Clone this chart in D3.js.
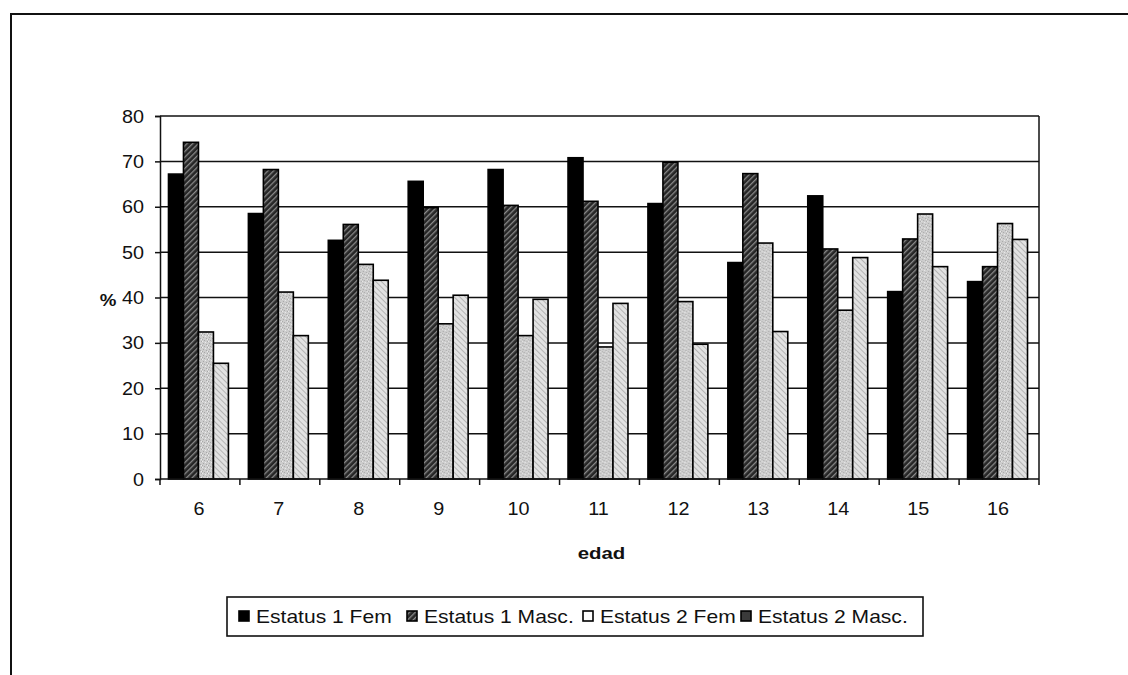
<!DOCTYPE html>
<html>
<head>
<meta charset="utf-8">
<script src="https://cdn.jsdelivr.net/npm/d3@7/dist/d3.min.js"></script>
<style>
  html, body { margin: 0; padding: 0; background: #fff; }
  svg { display: block; font-family: "Liberation Sans", Arial, sans-serif; }
</style>
</head>
<body>
<svg id="chart" width="1128" height="675"></svg>
<script>
// Porcentaje por edad y estatus
const edades = ["6", "7", "8", "9", "10", "11", "12", "13", "14", "15", "16"];
const serieNombres = ["Estatus 1 Fem", "Estatus 1 Masc.", "Estatus 2 Fem", "Estatus 2 Masc."];
const estatus1Fem  = [67.2, 58.5, 52.6, 65.6, 68.2, 70.8, 60.7, 47.7, 62.4, 41.3, 43.5];
const estatus1Masc = [74.2, 68.2, 56.1, 59.8, 60.3, 61.2, 69.8, 67.3, 50.7, 52.9, 46.8];
const estatus2Fem  = [32.4, 41.2, 47.3, 34.2, 31.6, 29.1, 39.1, 52.0, 37.2, 58.4, 56.3];
const estatus2Masc = [25.5, 31.6, 43.8, 40.5, 39.6, 38.7, 29.7, 32.5, 48.8, 46.8, 52.8];
const yTicks = [0, 10, 20, 30, 40, 50, 60, 70, 80];

const series = [estatus1Fem, estatus1Masc, estatus2Fem, estatus2Masc];

const svg = d3.select("#chart");
const defs = svg.append("defs");

// Text is drawn slightly wide, like the typeface of the original sheet
const SX = 1.15;
function label(parent, x, y, txt, opts = {}) {
  return parent.append("text")
    .attr("transform", `translate(${x},${y}) scale(${opts.sx || SX},1)`)
    .attr("text-anchor", opts.anchor || "start")
    .attr("font-size", opts.size || 18)
    .attr("font-weight", opts.weight || "normal")
    .attr("fill", "#111")
    .text(txt);
}

// Fill patterns for the four series
const p1 = defs.append("pattern").attr("id", "hatchDark")
  .attr("patternUnits", "userSpaceOnUse").attr("width", 4).attr("height", 4)
  .attr("patternTransform", "rotate(45)");
p1.append("rect").attr("width", 4).attr("height", 4).attr("fill", "#262626");
p1.append("rect").attr("x", 0).attr("width", 1.3).attr("height", 4).attr("fill", "#8a8a8a");

const p2 = defs.append("pattern").attr("id", "speckle")
  .attr("patternUnits", "userSpaceOnUse").attr("width", 6).attr("height", 6);
p2.append("rect").attr("width", 6).attr("height", 6).attr("fill", "#cdcdcd");
[[1, 1], [4, 2], [2, 4], [5, 5], [0, 3]].forEach(([x, y]) =>
  p2.append("rect").attr("x", x).attr("y", y).attr("width", 1).attr("height", 1).attr("fill", "#a8a8a8"));
[[3, 0], [0, 5], [5, 3]].forEach(([x, y]) =>
  p2.append("rect").attr("x", x).attr("y", y).attr("width", 1).attr("height", 1).attr("fill", "#ececec"));

const p3 = defs.append("pattern").attr("id", "hatchLight")
  .attr("patternUnits", "userSpaceOnUse").attr("width", 4).attr("height", 4)
  .attr("patternTransform", "rotate(-45)");
p3.append("rect").attr("width", 4).attr("height", 4).attr("fill", "#e2e2e2");
p3.append("rect").attr("x", 0).attr("width", 1).attr("height", 4).attr("fill", "#b4b4b4");

const barFills = ["#000", "url(#hatchDark)", "url(#speckle)", "url(#hatchLight)"];
const legendFills = ["#000", "url(#hatchDark)", "#fff", "#3a3a3a"];

// Outer frame (top and left edges visible)
svg.append("path")
  .attr("d", "M11,675 L11,14 L1128,14")
  .attr("fill", "none").attr("stroke", "#111").attr("stroke-width", 2);

const plot = { left: 160, right: 1039, top: 116, bottom: 479 };

const x = d3.scaleBand().domain(edades).range([plot.left, plot.right]).padding(0);
const bw = x.bandwidth();
const xs = d3.scaleBand().domain(d3.range(series.length))
  .range([bw * 0.125 - 1.5, bw * 0.875 - 1.5]).padding(0);
const y = d3.scaleLinear().domain([0, 80]).range([plot.bottom, plot.top]);

// Gridlines
svg.append("g").selectAll("line").data(yTicks.filter(d => d > 0)).join("line")
  .attr("x1", plot.left).attr("x2", plot.right)
  .attr("y1", d => y(d)).attr("y2", d => y(d))
  .attr("stroke", "#111").attr("stroke-width", 1.5);

// Right edge of plot area
svg.append("line")
  .attr("x1", plot.right).attr("x2", plot.right)
  .attr("y1", plot.top).attr("y2", plot.bottom)
  .attr("stroke", "#111").attr("stroke-width", 1.5);

// Bars
const groups = svg.append("g").selectAll("g").data(edades).join("g")
  .attr("transform", d => `translate(${x(d)},0)`);
groups.selectAll("rect")
  .data((d, i) => series.map((s, k) => ({ k, v: s[i] })))
  .join("rect")
  .attr("x", d => xs(d.k))
  .attr("width", xs.bandwidth())
  .attr("y", d => y(d.v))
  .attr("height", d => y(0) - y(d.v))
  .attr("fill", d => barFills[d.k])
  .attr("stroke", "#000").attr("stroke-width", 1.6);

// Y axis (line and ticks from d3.axisLeft, labels widened)
const yAxis = d3.axisLeft(y).tickValues(yTicks).tickSize(5).tickFormat("");
const gy = svg.append("g").attr("transform", `translate(${plot.left},0)`).call(yAxis);
gy.select(".domain").attr("stroke", "#111").attr("stroke-width", 1.5);
gy.selectAll(".tick line").attr("stroke", "#111").attr("stroke-width", 1.5);
yTicks.forEach(t => label(svg, 144, y(t) + 6.5, String(t), { anchor: "end", sx: 1.1 }));

// X axis with ticks between categories
const gx = svg.append("g").attr("transform", `translate(0,${plot.bottom})`);
gx.append("line").attr("x1", plot.left).attr("x2", plot.right)
  .attr("stroke", "#111").attr("stroke-width", 1.5);
gx.selectAll("line.sep").data(d3.range(edades.length + 1)).join("line").attr("class", "sep")
  .attr("x1", i => plot.left + i * bw).attr("x2", i => plot.left + i * bw)
  .attr("y1", 0).attr("y2", 6)
  .attr("stroke", "#111").attr("stroke-width", 1.5);
edades.forEach(d => label(svg, x(d) + bw / 2 - 1, 515, d, { anchor: "middle", sx: 1.1 }));

// Axis titles
label(svg, (plot.left + plot.right) / 2 + 2, 559, "edad", { anchor: "middle", weight: "bold", size: 17, sx: 1.2 });
label(svg, 108, 306, "%", { anchor: "middle", weight: "bold", size: 17, sx: 1.1 });

// Legend
const leg = svg.append("g").attr("transform", "translate(227,597)");
leg.append("rect").attr("width", 696).attr("height", 39)
  .attr("fill", "#fff").attr("stroke", "#111").attr("stroke-width", 1.6);
const legX = [12, 180, 356, 514];
serieNombres.forEach((name, k) => {
  const g = leg.append("g").attr("transform", `translate(${legX[k]},0)`);
  g.append("rect").attr("x", 0).attr("y", 14).attr("width", 10).attr("height", 10)
    .attr("fill", legendFills[k]).attr("stroke", "#000").attr("stroke-width", 1.6);
  label(g, 17, 26, name, { sx: 1.17 });
});
</script>
</body>
</html>
